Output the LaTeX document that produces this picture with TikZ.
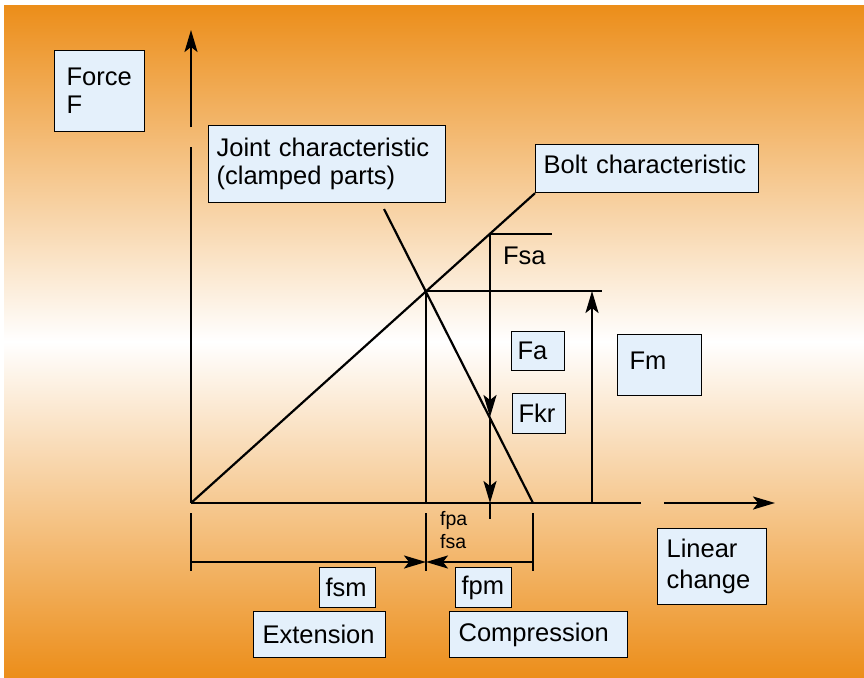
\documentclass[tikz,border=0pt]{standalone}
\usepackage{fontspec}
\setmainfont{Liberation Sans}
\usetikzlibrary{arrows.meta}
\definecolor{bgorange}{RGB}{236,142,26}
\definecolor{boxfill}{RGB}{228,240,251}
\hyphenpenalty=10000
\tikzset{
  box/.style={draw,fill=boxfill,line width=1.2pt,anchor=north west,align=left,inner ysep=0pt,
    font=\fontsize{25.5}{28}\selectfont},
  arr/.style={-{Stealth[length=22pt,width=13pt,inset=5pt]}},
  lbl/.style={anchor=base west,inner sep=0pt}
}
\begin{document}
\begin{tikzpicture}[x=1pt,y=-1pt,line width=2.2pt]
\useasboundingbox (0,0) rectangle (864,677);
\fill[white] (0,0) rectangle (864,677);
\shade[top color=bgorange,bottom color=bgorange,middle color=white] (4,6) rectangle (864,677);

% points of the diagram
\coordinate (O) at (191,503);
\coordinate (ytip) at (191,30);
\coordinate (ygapA) at (191,127);
\coordinate (ygapB) at (191,147);
\coordinate (xgapA) at (641,503);
\coordinate (xgapB) at (664,503);
\coordinate (xtip) at (775,503);
\coordinate (P) at (426,291);
\coordinate (Pfoot) at (426,503);
\coordinate (jointTop) at (384,209);
\coordinate (jointEnd) at (533,503);
\coordinate (S) at (490,234);
\coordinate (Send) at (552,234);
\coordinate (Skr) at (490,417);
\coordinate (Saxis) at (490,503);
\coordinate (Sdown) at (490,519);
\coordinate (Pend) at (602,291);
\coordinate (mFoot) at (592,503);
\coordinate (mTop) at (592,291);

% boxes
\node[box,minimum height=81pt,text width=66pt,inner xsep=12pt] (force) at (54,50) {Force\\F};
\node[box,minimum height=77pt,text width=221pt,inner xsep=8pt] (joint) at (208,125) {Joint characteristic\\(clamped parts)};
\node[box,minimum height=48pt,text width=207pt,inner xsep=8pt,text depth=8pt] (bolt) at (535,144) {Bolt characteristic};
\node[box,minimum height=39pt,text width=41pt,inner xsep=6pt] (fa) at (511,331) {Fa};
\node[box,minimum height=40pt,text width=41pt,inner xsep=6pt] (fkr) at (512,393) {Fkr};
\node[box,minimum height=61pt,text width=60pt,inner xsep=12pt,text depth=8pt] (fm) at (617,334) {Fm};
\node[box,minimum height=76pt,text width=91pt,inner xsep=9pt,font=\fontsize{25.5}{31}\selectfont] (linear) at (657,528) {Linear\\change};
\node[box,minimum height=40pt,text width=44pt,inner xsep=6pt] (fsm) at (319,567) {fsm};
\node[box,minimum height=40pt,text width=44pt,inner xsep=6pt] (fpm) at (455,567) {fpm};
\node[box,minimum height=46pt,text width=114pt,inner xsep=9pt] (ext) at (253,611) {Extension};
\node[box,minimum height=46pt,text width=160pt,inner xsep=9pt] (comp) at (449,611) {Compression};

% axes
\draw (O) -- (ygapB);
\draw[arr] (ygapA) -- (ytip);
\draw (O) -- (xgapA);
\draw[arr] (xgapB) -- (xtip);

% characteristics
\draw (O) -- (bolt.south west);
\draw (jointTop) -- (jointEnd);
\draw (P) -- (Pfoot);
\draw (P) -- (Pend);
\draw (S) -- (Send);
\draw[arr] (S) -- (Skr);
\draw[arr] (Skr) -- (Saxis);
\draw (Saxis) -- (Sdown);
\draw[arr] (mFoot) -- (mTop);

% dimension lines
\draw (191,513) -- (191,571);
\draw (426,513) -- (426,571);
\draw (533,513) -- (533,571);
\coordinate (dimL) at (191,562);
\coordinate (dimM) at (426,562);
\coordinate (dimR) at (533,562);
\draw[arr] (dimL) -- (dimM);
\draw[arr] (dimR) -- (dimM);

\node[lbl,font=\fontsize{25.5}{28}\selectfont] (fsa) at (502,264) {Fsa};
\node[lbl,font=\fontsize{19.5}{22}\selectfont] (fpa) at (439,525) {fpa};
\node[lbl,font=\fontsize{19.5}{22}\selectfont] (fsa2) at (439,548) {fsa};
\end{tikzpicture}
\end{document}
